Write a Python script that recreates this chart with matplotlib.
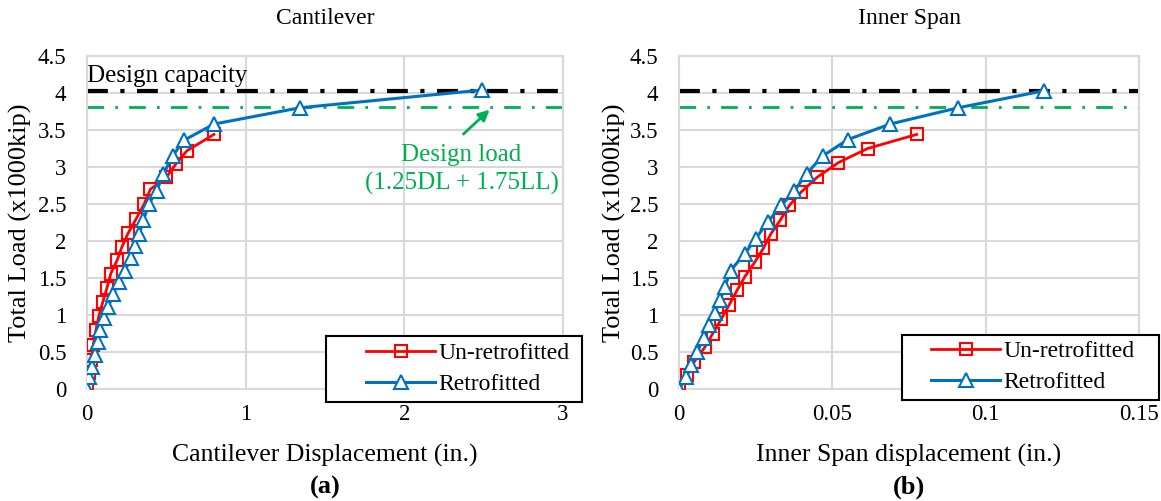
import matplotlib.pyplot as plt
from matplotlib.patches import Rectangle

plt.rcParams['font.family'] = ['Liberation Serif', 'DejaVu Serif']

# cantilever (a)
cant_un_x = [0, 0.01, 0.025, 0.04, 0.057, 0.074, 0.1, 0.125, 0.15, 0.19, 0.22, 0.26, 0.31, 0.36, 0.4, 0.5, 0.56, 0.63, 0.8]
cant_un_y = [0, 0.22, 0.39, 0.6, 0.8, 0.98, 1.18, 1.36, 1.56, 1.74, 1.92, 2.11, 2.3, 2.5, 2.7, 2.86, 3.04, 3.22, 3.44]
cant_re_x = [0, 0.015, 0.03, 0.05, 0.07, 0.085, 0.11, 0.135, 0.165, 0.2, 0.24, 0.275, 0.3, 0.33, 0.355, 0.39, 0.44, 0.48, 0.54, 0.61, 0.8, 1.34, 2.49]
cant_re_y = [0, 0.16, 0.3, 0.46, 0.63, 0.8, 0.96, 1.11, 1.28, 1.45, 1.6, 1.77, 1.93, 2.1, 2.28, 2.5, 2.68, 2.9, 3.15, 3.36, 3.58, 3.8, 4.04]

# inner span (b)
span_un_x = [0, 0.0027, 0.005, 0.0085, 0.011, 0.0137, 0.0164, 0.019, 0.0215, 0.0248, 0.0275, 0.030, 0.033, 0.036, 0.0398, 0.045, 0.052, 0.0615, 0.0775]
span_un_y = [0, 0.19, 0.37, 0.57, 0.75, 0.94, 1.14, 1.34, 1.52, 1.72, 1.9, 2.1, 2.28, 2.48, 2.66, 2.86, 3.06, 3.25, 3.44]
span_re_x = [0, 0.0023, 0.004, 0.006, 0.008, 0.0098, 0.0117, 0.0134, 0.015, 0.0168, 0.0215, 0.025, 0.029, 0.0333, 0.0375, 0.0416, 0.0469, 0.055, 0.0688, 0.091, 0.119]
span_re_y = [0, 0.16, 0.33, 0.5, 0.69, 0.87, 1.03, 1.2, 1.38, 1.6, 1.83, 2.03, 2.26, 2.48, 2.67, 2.91, 3.15, 3.37, 3.58, 3.8, 4.03]

capacity = 4.03
design_load = 3.81

RED = '#FF0000'
BLUE = '#0070C0'
GREEN = '#00B050'

W, H = 1161, 501
fig = plt.figure(figsize=(W / 100, H / 100), dpi=100)
ax1 = fig.add_axes([87 / W, 1 - 389 / H, 476 / W, 333 / H])
ax2 = fig.add_axes([679 / W, 1 - 389 / H, 460 / W, 333 / H])


def draw(ax, ux, uy, rx, ry, xmax, xticks, xlabels, title, xlabel, tag):
    ax.axhline(capacity, color='black', lw=3, ls=(0, (5, 3, 1, 3)), zorder=2)
    ax.axhline(design_load, color=GREEN, lw=2, ls=(0, (6, 4, 1, 4)), zorder=2)
    ax.plot(ux, uy, color=RED, lw=2, marker='s', ms=9, mfc='none', mec=RED,
            mew=1.5, label='Un-retrofitted', zorder=3)
    ax.plot(rx, ry, color=BLUE, lw=2.2, marker='^', ms=10, mfc='white', mec=BLUE,
            mew=1.5, label='Retrofitted', zorder=4)
    ax.set_xlim(0, xmax)
    ax.set_ylim(0, 4.5)
    ax.set_xticks(xticks)
    ax.set_xticklabels(xlabels)
    ax.set_yticks([0, 0.5, 1, 1.5, 2, 2.5, 3, 3.5, 4, 4.5])
    ax.set_yticklabels(['0', '0.5', '1', '1.5', '2', '2.5', '3', '3.5', '4', '4.5'])
    ax.grid(True, color='#D9D9D9', lw=1.5)
    ax.set_axisbelow(True)
    for s in ax.spines.values():
        s.set_color('#D9D9D9')
        s.set_linewidth(1.5)
    ax.tick_params(length=0, labelsize=16.5)
    ax.tick_params(axis='y', pad=15)
    ax.tick_params(axis='x', pad=11)
    ax.text(0.5, 1.114, title, transform=ax.transAxes, ha='center', va='center', fontsize=17)
    ax.set_xlabel(xlabel, fontsize=18.5, va='center')
    ax.xaxis.set_label_coords(0.5, -0.2)
    ax.set_ylabel('Total Load (x1000kip)', fontsize=19, va='center')
    ax.yaxis.set_label_coords(-0.14, 0.5)
    ax.text(0.5, -0.295, tag, transform=ax.transAxes, ha='center', va='center',
            fontsize=19, fontweight='bold')


draw(ax1, cant_un_x, cant_un_y, cant_re_x, cant_re_y, 3, [0, 1, 2, 3], ['0', '1', '2', '3'],
     'Cantilever', 'Cantilever Displacement (in.)', '(a)')
draw(ax2, span_un_x, span_un_y, span_re_x, span_re_y, 0.15, [0, 0.05, 0.1, 0.15],
     ['0', '0.05', '0.1', '0.15'], 'Inner Span', 'Inner Span displacement (in.)', '(b)')

ax1.text(0.0, 4.23, 'Design capacity', fontsize=18, ha='left', va='center')
ax1.annotate('', xy=(2.55, 3.80), xytext=(2.36, 3.42),
             arrowprops=dict(arrowstyle='-|>', color=GREEN, lw=2, mutation_scale=16))
ax1.text(2.36, 3.16, 'Design load', color=GREEN, fontsize=18, ha='center', va='center')
ax1.text(2.36, 2.78, '(1.25DL + 1.75LL)', color=GREEN, fontsize=18, ha='center', va='center')

# legend boxes (pixel extents)
for ax, box, centre in [(ax1, (326, 336, 582, 402), (468, 369)),
                        (ax2, (902, 335, 1159, 400), (1033, 367))]:
    x0, y0, x1, y1 = box
    fig.patches.append(Rectangle((x0 / W, 1 - y1 / H), (x1 - x0) / W, (y1 - y0) / H,
                                 transform=fig.transFigure, fill=True, facecolor='white',
                                 edgecolor='black', lw=1.5, zorder=5))
    leg = fig.legend(*ax.get_legend_handles_labels(), loc='center',
                     bbox_to_anchor=(centre[0] / W, 1 - centre[1] / H),
                     fontsize=17, frameon=False, handlelength=2.9,
                     borderpad=0.0, labelspacing=0.4, handletextpad=0.15)
    leg.set_zorder(6)

fig.savefig('out.png', dpi=100)
